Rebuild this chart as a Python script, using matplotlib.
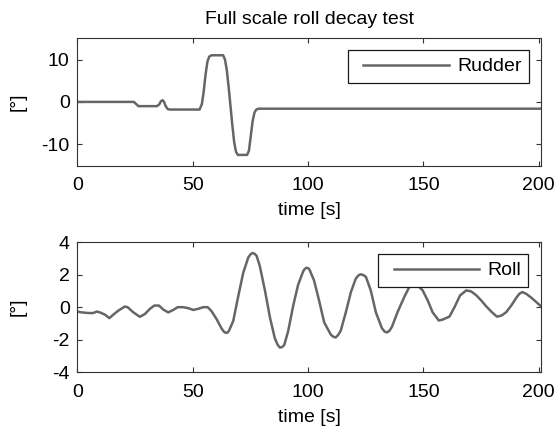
import numpy as np
import matplotlib
matplotlib.use('Agg')
import matplotlib.pyplot as plt
from matplotlib.legend_handler import HandlerLine2D

# --- data ---
rudder_t = [0, 24.5, 25.5, 26.5, 34.5, 35.5, 36.3, 37.0, 37.6, 38.3, 39.2, 40.0,
            53.0, 54.0, 54.8, 55.6, 56.4, 57.2, 58.2, 63.2, 64.0, 64.8, 65.6, 66.4,
            67.2, 68.0, 68.8, 69.6, 73.6, 74.4, 75.2, 76.0, 76.8, 77.6, 78.6, 201]
rudder_deg = [0, 0, -0.5, -1.0, -1.0, -0.6, 0.2, 0.4, 0.0, -1.0, -1.7, -1.8,
              -1.8, -0.5, 2.5, 6.5, 9.5, 10.7, 11.0, 11.0, 10.0, 7.5, 3.5, -1.0,
              -5.5, -9.5, -11.8, -12.5, -12.5, -11.5, -8.0, -4.5, -2.5, -1.8, -1.6, -1.6]

roll_t = [0, 1.9, 4.8, 6.9, 8.4, 9.8, 12, 13.9, 15.6, 17.8, 20.6, 21.8, 24.3, 27.1,
          29.3, 31.5, 33.4, 35.4, 37.3, 39.4, 41.6, 43.5, 45.9, 48.1, 50.3, 52.4,
          54.6, 56.5, 58.2, 60.4, 62.5, 63.5, 64.4, 65.2, 65.8, 67.6, 69.7, 71.9,
          74.1, 75.1, 76.0, 76.9, 77.7, 79.1, 81.3, 83.5, 85.6, 86.8, 87.8, 88.8,
          89.7, 91.4, 93.6, 95.7, 97.9, 98.6, 99.3, 100.0, 100.6, 102.6, 104.8,
          107.0, 109.9, 111.0, 112.0, 113.0, 114.2, 116.4, 118.6, 120.7, 122.0,
          122.9, 124.0, 125.1, 127.2, 129.4, 132.0, 133.2, 134.2, 135.3, 136.4,
          138.8, 141.7, 143.9, 146.0, 147.8, 149.7, 151.9, 154.0, 156.7, 158.4,
          161.3, 163.5, 165.9, 168.6, 170.7, 173.0, 175.1, 177.2, 179.7, 181.9,
          183.8, 185.9, 188.1, 190.3, 191.6, 192.9, 194.6, 196.8, 199.0, 201]
roll_deg = [-0.27, -0.32, -0.36, -0.36, -0.27, -0.32, -0.46, -0.67, -0.46, -0.21,
            0.04, 0.0, -0.32, -0.59, -0.42, -0.1, 0.1, 0.1, -0.15, -0.32, -0.17,
            0.0, 0.0, -0.06, -0.17, -0.1, 0.0, 0.0, -0.25, -0.74, -1.3, -1.5,
            -1.58, -1.55, -1.43, -0.84, 0.63, 2.1, 3.05, 3.25, 3.33, 3.27, 3.16,
            2.53, 1.05, -0.63, -1.9, -2.3, -2.48, -2.45, -2.32, -1.47, 0.1, 1.37,
            2.2, 2.35, 2.42, 2.4, 2.32, 1.65, 0.41, -0.93, -1.69, -1.82, -1.86,
            -1.72, -1.44, -0.31, 0.93, 1.75, 1.97, 2.02, 1.97, 1.86, 1.03, -0.31,
            -1.28, -1.5, -1.55, -1.45, -1.2, -0.31, 0.62, 1.24, 1.4, 1.3, 1.03,
            0.41, -0.31, -0.82, -0.76, -0.58, 0.0, 0.72, 1.03, 0.97, 0.72, 0.41,
            0.06, -0.31, -0.58, -0.52, -0.31, 0.1, 0.58, 0.82, 0.93, 0.82, 0.58,
            0.31, 0.05]

x_ticks = [0, 50, 100, 150, 200]
rudder_yticks = [-10, 0, 10]
roll_yticks = [-4, -2, 0, 2, 4]

LINE_COLOR = '0.4'
FS = 14
plt.rcParams['font.family'] = ['Liberation Sans', 'DejaVu Sans']
plt.rcParams['font.size'] = FS
plt.rcParams['axes.unicode_minus'] = False


class InsetLine(HandlerLine2D):
    # legend line that starts a bit inside the handle box
    def get_xdata(self, legend, xdescent, ydescent, width, height, fontsize):
        xdata, xm = super().get_xdata(legend, xdescent, ydescent, width, height, fontsize)
        xdata = np.array(xdata, dtype=float)
        xdata[0] += 0.4 * fontsize
        return xdata, xm


def style_axes(ax, yticks, ylim):
    ax.set_xlim(0, 201)
    ax.set_ylim(*ylim)
    ax.set_xticks(x_ticks)
    ax.set_yticks(yticks)
    ax.tick_params(direction='in', top=True, right=True, length=3.5, width=0.8,
                   color='0.2', labelsize=FS)
    ax.tick_params(axis='x', pad=8.5)
    ax.tick_params(axis='y', pad=5.5)
    for s in ax.spines.values():
        s.set_color('0.2')
        s.set_linewidth(0.8)
    ax.set_xlabel('time [s]', labelpad=5.5)
    ax.set_ylabel('[°]')
    ax.yaxis.set_label_coords(-0.11, 0.5)


def add_legend(ax, anchor):
    leg = ax.legend(loc='upper right', bbox_to_anchor=anchor, borderaxespad=0,
                    fancybox=False, framealpha=1, edgecolor='0.1',
                    handlelength=4.8, handletextpad=0.42, borderpad=0.38,
                    fontsize=FS, handler_map={plt.Line2D: InsetLine()})
    leg.get_frame().set_linewidth(0.9)
    return leg


fig = plt.figure(figsize=(5.57, 4.28), dpi=100)
ax1 = fig.add_axes([0.1388, 0.6133, 0.8325, 0.2972])
ax2 = fig.add_axes([0.1388, 0.1301, 0.8325, 0.3044])

ax1.plot(rudder_t, rudder_deg, color=LINE_COLOR, lw=1.8, label='Rudder')
style_axes(ax1, rudder_yticks, (-15, 15))
ax1.set_title('Full scale roll decay test', fontsize=FS, pad=10.5)
add_legend(ax1, (0.974, 0.905))

ax2.plot(roll_t, roll_deg, color=LINE_COLOR, lw=1.8, label='Roll')
style_axes(ax2, roll_yticks, (-4, 4))
add_legend(ax2, (0.973, 0.905))

fig.savefig('out.png', dpi=100)
